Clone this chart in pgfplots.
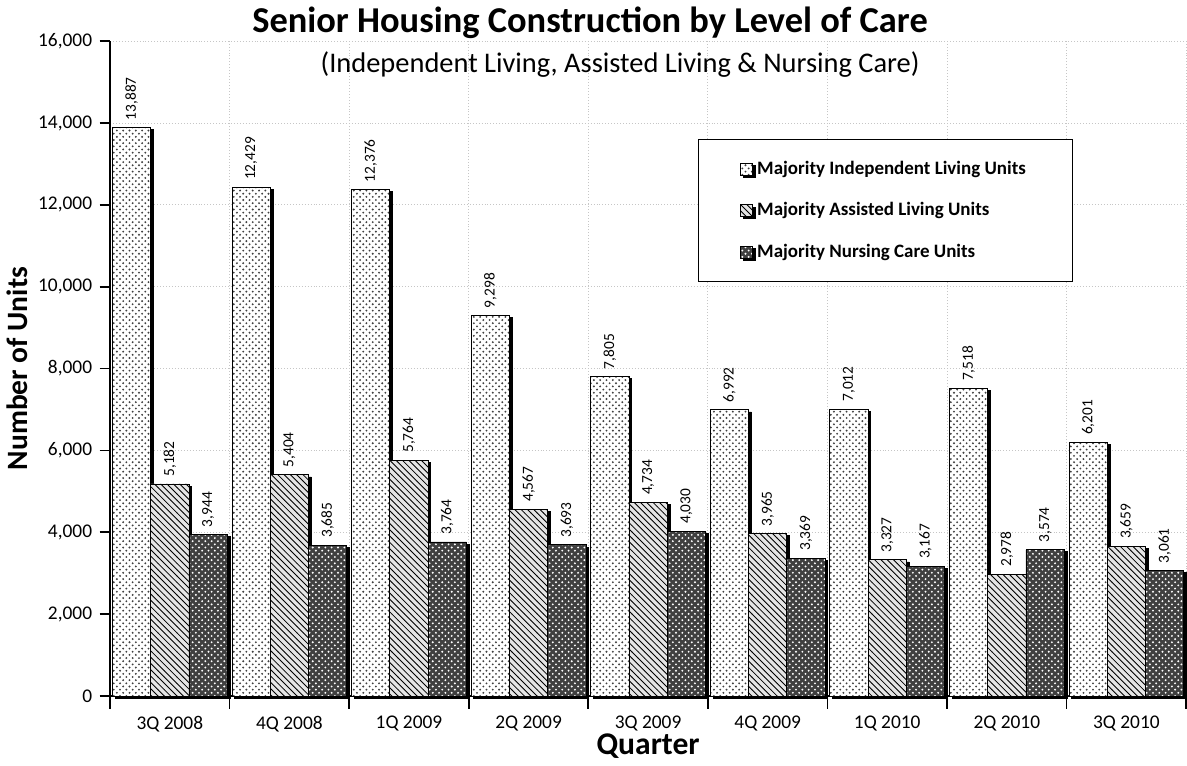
\documentclass[border=0pt]{standalone}
\usepackage{fontspec}
\setmainfont{Carlito}
\usepackage{pgfplots}
\usepackage{pgfplotstable}
\pgfplotsset{compat=1.18}
\usetikzlibrary{patterns}

\pgfplotstableread{
x ind ast nur
0 13887 5182 3944
1 12429 5404 3685
2 12376 5764 3764
3 9298 4567 3693
4 7805 4734 4030
5 6992 3965 3369
6 7012 3327 3167
7 7518 2978 3574
8 6201 3659 3061
}\caredata

\begin{document}
\begin{tikzpicture}
\begin{axis}[
  scale only axis, width=511pt, height=311pt,
  clip=false,
  ybar=0pt, bar width=0.32,
  xmin=-0.5, xmax=8.5, ymin=0, ymax=16000,
  xtick={0,...,8},
  xticklabels={3Q 2008,4Q 2008,1Q 2009,2Q 2009,3Q 2009,4Q 2009,1Q 2010,2Q 2010,3Q 2010},
  minor xtick={-0.5,0.5,...,8.5},
  major x tick style={draw=none},
  ytick={0,2000,...,16000},
  axis x line*=bottom, axis y line*=left,
  axis line style={-, black, thick},
  tick align=outside, tick style={black, thick},
  major tick length=5pt, minor tick length=6pt,
  ymajorgrids, xminorgrids,
  grid style={densely dotted, gray!45},
  minor grid style={densely dotted, gray!45},
  tick label style={font=\fontsize{9.2}{11}\selectfont},
  x tick label style={yshift=-1pt},
  xlabel={\bfseries Quarter}, xlabel style={font=\fontsize{15}{17}\selectfont, yshift=6pt},
  ylabel={\bfseries Number of Units}, ylabel style={font=\fontsize{14}{16}\selectfont, yshift=-2pt},
  /pgf/number format/fixed,
  /pgf/number format/1000 sep={,},
  /pgf/number format/assume math mode=true,
  scaled y ticks=false,
  nodes near coords,
  nodes near coords style={font=\fontsize{7.3}{8}\selectfont, rotate=90, anchor=west},
  legend cell align=left,
  legend style={at={(rel axis cs:0.546,0.85)}, anchor=north west, draw=black,
    font=\fontsize{9}{11}\selectfont\bfseries, row sep=8pt,
    inner xsep=20pt, inner ysep=8pt},
  legend image code/.code={\draw[#1] (0cm,-0.1cm) rectangle (0.2cm,0.1cm);},
]
\addplot[draw=black, fill=white, postaction={pattern=crosshatch dots, pattern color=black!75},
  preaction={fill=black, transform canvas={xshift=1.3pt, yshift=-1pt}}]
  table[x=x, y=ind] {\caredata};
\addplot[draw=black, fill=black!10, postaction={pattern=north west lines, pattern color=black},
  preaction={fill=black, transform canvas={xshift=1.3pt, yshift=-1pt}}]
  table[x=x, y=ast] {\caredata};
\addplot[draw=black, fill=black!75, postaction={pattern=crosshatch dots, pattern color=white},
  preaction={fill=black, transform canvas={xshift=1.3pt, yshift=-1pt}}]
  table[x=x, y=nur] {\caredata};
\legend{Majority Independent Living Units, Majority Assisted Living Units, Majority Nursing Care Units}
\node[font=\fontsize{17.3}{20}\selectfont\bfseries, anchor=base] at (rel axis cs:0.446,1.013)
  {Senior Housing Construction by Level of Care};
\node[font=\fontsize{13.5}{16}\selectfont, anchor=base] at (rel axis cs:0.474,0.952)
  {(Independent Living, Assisted Living \& Nursing Care)};
\end{axis}
\end{tikzpicture}
\end{document}
